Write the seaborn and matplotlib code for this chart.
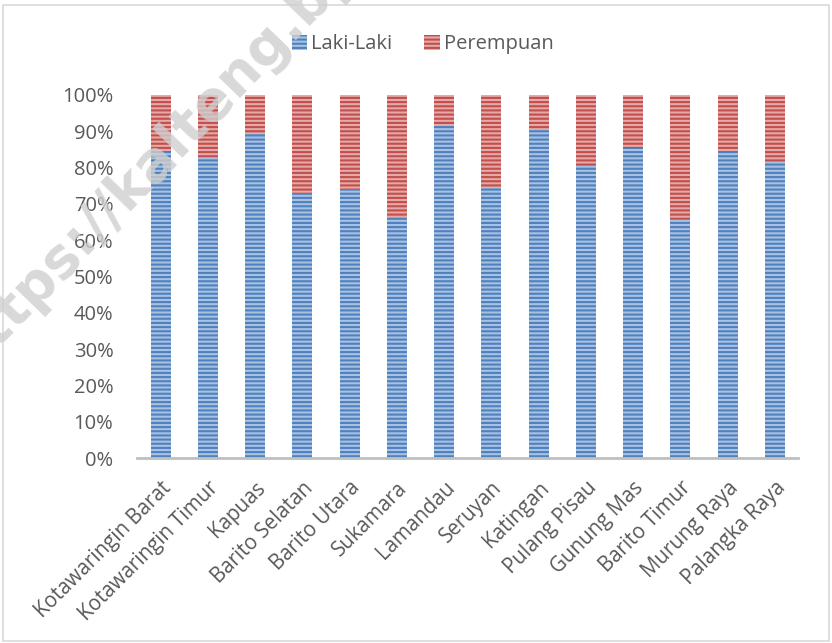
import pandas as pd
import matplotlib.pyplot as plt
import seaborn as sns
from matplotlib.patches import Patch, Rectangle
from matplotlib.ticker import PercentFormatter

# Data (share of Laki-Laki, %)
kabupaten = ['Kotawaringin Barat', 'Kotawaringin Timur', 'Kapuas', 'Barito Selatan',
             'Barito Utara', 'Sukamara', 'Lamandau', 'Seruyan', 'Katingan',
             'Pulang Pisau', 'Gunung Mas', 'Barito Timur', 'Murung Raya', 'Palangka Raya']
laki = [84.4, 82.9, 89.4, 72.9, 74.1, 66.5, 91.5, 74.7, 90.5, 80.4, 85.5, 65.7, 84.3, 81.6]
perempuan = [100 - v for v in laki]

df = pd.DataFrame({'kab': kabupaten, 'laki': laki, 'perempuan': perempuan})
df['total'] = df['laki'] + df['perempuan']

sns.set_style('white')
plt.rcParams['font.family'] = ['Open Sans', 'DejaVu Sans']
plt.rcParams['hatch.linewidth'] = 1.5

fig = plt.figure(figsize=(8.32, 6.43), dpi=100)
ax = fig.add_axes([0.1647, 0.2877, 0.795, 0.5646])

blue_face, blue_line = '#a9c1e3', '#4f81bd'
red_face, red_line = '#e6a9a7', '#c0504d'
txt = '#595959'

# stacked: full bar in red, Laki-Laki drawn over it
sns.barplot(data=df, x='kab', y='total', color=red_face, width=0.42,
            edgecolor=red_line, linewidth=0, hatch='----', saturation=1, ax=ax)
sns.barplot(data=df, x='kab', y='laki', color=blue_face, width=0.42,
            edgecolor=blue_line, linewidth=0, hatch='----', saturation=1, ax=ax)

ax.set_ylim(0, 100)
ax.set_xlim(-0.5, len(kabupaten) - 0.5)
ax.set_yticks(range(0, 101, 10))
ax.yaxis.set_major_formatter(PercentFormatter(decimals=0))
ax.set_xlabel('')
ax.set_ylabel('')
ax.tick_params(axis='y', labelsize=14.5, labelcolor=txt, length=0, pad=17)
ax.tick_params(axis='x', labelsize=14.8, labelcolor=txt, length=0, pad=14)
plt.setp(ax.get_xticklabels(), rotation=45, ha='right', rotation_mode='anchor')

for s in ['top', 'right', 'left']:
    ax.spines[s].set_visible(False)
ax.spines['bottom'].set_color('#bfbfbf')
ax.spines['bottom'].set_linewidth(2)

handles = [Patch(facecolor=blue_face, edgecolor=blue_line, linewidth=0, hatch='----', label='Laki-Laki'),
           Patch(facecolor=red_face, edgecolor=red_line, linewidth=0, hatch='----', label='Perempuan')]
leg = fig.legend(handles=handles, loc='center', bbox_to_anchor=(0.508, 0.931), ncol=2,
                 frameon=False, fontsize=14.5, handlelength=0.75, handleheight=0.75,
                 handletextpad=0.2, columnspacing=1.6)
for t in leg.get_texts():
    t.set_color(txt)

# chart frame
fig.patches.append(Rectangle((0.004, 0.003), 0.992, 0.989, transform=fig.transFigure,
                             fill=False, edgecolor='#d9d9d9', linewidth=1.2))

# watermark
fig.text(-42 / 832, 1 - 364 / 643, 'https://kalteng.bps.go.id', rotation=46, fontsize=40,
         fontweight='bold', family='DejaVu Sans', color='#cfcfcf', alpha=0.8,
         ha='left', va='center', rotation_mode='anchor', zorder=10)

fig.savefig('out.png', dpi=100)
